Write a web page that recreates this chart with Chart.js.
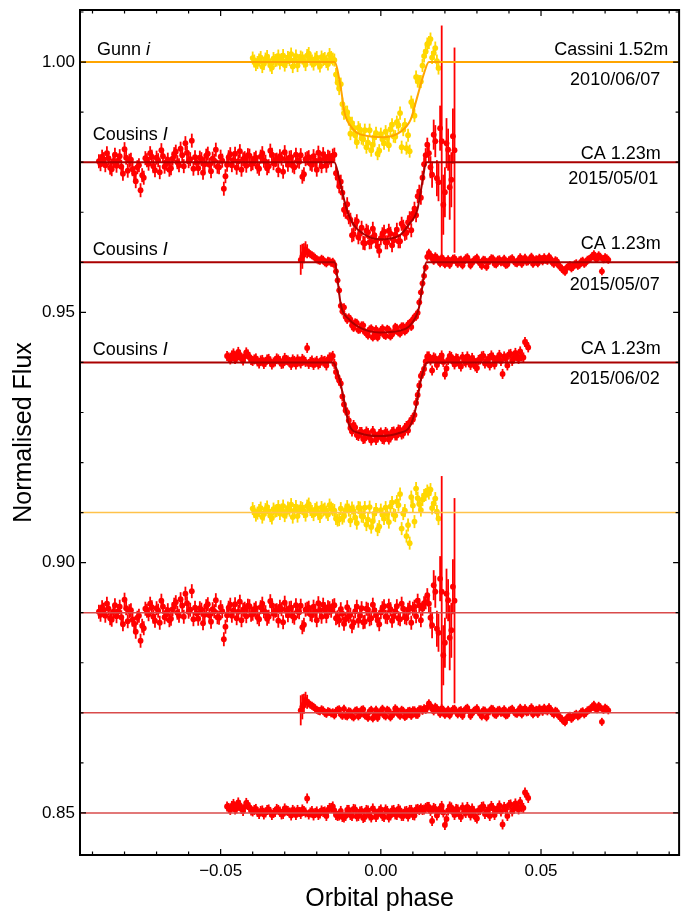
<!DOCTYPE html>
<html>
<head>
<meta charset="utf-8">
<title>Transit light curves</title>
<script src="https://cdn.jsdelivr.net/npm/chart.js@4.4.1/dist/chart.umd.min.js"></script>
<style>
	body { margin: 0; background: #fff; }
	#wrap { width: 682px; height: 914px; }
</style>
</head>
<body>
<div id="wrap"><canvas id="lc"></canvas></div>
<script>
// axis ticks
var xTicks = [-0.05, 0, 0.05];
var yTicks = [0.85, 0.90, 0.95, 1.00];

// photometry cadence in phase; the *Mid arrays sit half a step after each point
var step = 0.001;

// all fluxes below are (flux - 1) in parts per thousand

// Cassini 1.52m, Gunn i, 2010/06/07 : phases -0.040 .. 0.018
var gunnStart = -0.040;
var gunnBefore = [0.8,-0.5,0.4,-0.9,0.6,0.2,-1.1,0.3,1.2,0.5,-0.6,0.9,1.6,0.4,-0.7,1.0,0.2,1.3,0.6,-0.4,0.9,-0.8,0.5,0.1,1.5,0.6];
var gunnBeforeMid = [0.2,-0.1,0.9,-0.3,1.1,-0.6,0.7,0.4,-0.2,1.3,0.1,0.5,-0.9,1.2,0.3,0.8,-0.5,1.7,0.2,0.6,-0.2,1.0,0.7,-0.4,0.9];
var gunnIn = [-2.5,-5.3,-8.4,-10.0,-11.4,-12.2,-14.6,-13.1,-15.2,-13.6,-16.1,-17.6,-15.0,-18.3,-14.4,-16.2,-15.1,-13.4,-14.8,-12.0,-10.2,-13.5,-17.2,-17.8,-8.6,-3.0,-3.9,-0.7,2.1];
var gunnInMid = [0.4,-4.1,-4.4,-10.2,-10.0,-14.3,-13.1,-16.0,-13.5,-15.4,-17.0,-13.6,-16.5,-14.2,-17.7,-15.4,-13.9,-16.6,-12.5,-14.9,-12.6,-17.0,-12.5,-14.6,-8.0,-10.7,-3.8,-3.9,1.2,3.6];
var gunnInResid = [-1.2,-1.4,-1.1,0.5,0.5,0.9,-1.0,1.0,-0.7,1.0,-1.4,-2.9,-0.2,-3.4,0.5,-1.2,-0.3,1.2,-0.4,2.2,3.7,-0.2,-4.7,-6.1,1.4,4.8,1.7,2.6,3.6];
var gunnInMidResid = [0.4,-1.5,0.8,-0.7,1.2,-1.6,0.3,-2.1,0.9,-0.8,-2.4,1.1,-1.7,0.6,-2.8,-0.4,1.0,-1.9,2.0,-0.6,1.5,-3.2,0.4,-2.5,3.1,-1.8,2.9,0.5,3.4,4.3];
var gunnAfter = [3.9,0.9,2.8,-1.2];
var gunnAfterMid = [4.6,1.8,0.2];
var gunnErr = 1.3;
var gunnModelPhase = [-0.1,-0.0145,-0.0124,-0.0114,-0.0093,-0.0062,0.001,0.0062,0.0093,0.0114,0.0135,0.015,0.1];
var gunnModel = [0,0,-5.5,-9.9,-12.9,-14.5,-15.0,-13.9,-11.5,-6.9,-2.2,0,0];

// CA 1.23m, Cousins I, 2015/05/01 : phases -0.088 .. 0.023
var may01Start = -0.088;
var may01Before = [0.2,1.1,-0.6,0.8,-1.4,1.5,0.3,-0.9,2.6,-1.7,0.5,-2.2,-1.0,-5.6,-3.1,0.4,1.8,-0.8,0.9,-2.0,
	1.2,-0.3,-1.5,0.7,2.1,-0.6,1.4,3.8,0.2,4.3,1.0,-1.2,0.6,-0.4,1.7,-1.8,0.3,-0.9,1.1,-5.3,
	-0.5,1.6,0.4,-1.1,2.2,0.6,-0.7,1.3,-0.2,0.9,-1.3,1.8,0.1,-0.8,1.5,0.4,-1.6,0.7,2.0,-0.5,
	1.0,-1.0,0.3,1.4,-2.4,0.8,-0.3,1.2,-1.5,0.5,1.6,-0.7,0.9,1.3];
var may01BeforeMid = [-0.4,0.6,1.8,-1.1,0.2,-0.7,1.2,-2.3,0.9,0.3,-1.4,-3.8,-0.6,-2.6,0.8,-0.3,1.1,-1.6,0.4,2.4,
	-0.9,0.5,-1.2,1.6,0.0,2.7,-0.8,1.9,0.6,-1.3,-0.1,0.9,-2.1,1.3,-0.5,0.7,2.5,-1.0,0.3,-2.8,
	1.0,-0.6,1.7,0.2,-1.5,0.8,1.4,-0.4,0.6,-0.9,1.1,0.3,-1.2,2.3,-0.2,0.5,1.2,-1.9,0.4,0.9,
	-0.7,1.5,0.1,-2.9,0.6,1.0,-0.5,0.3,1.9,-0.8,0.7,1.1,0.4];
var may01In = [-2.2,-4.8,-6.1,-9.9,-11.0,-14.6,-12.4,-15.0,-13.1,-16.2,-14.0,-15.9,-14.6,-16.8,-15.2,-13.9,-16.0,-14.3,-15.6,-13.5,-15.8,-12.9,-14.1,-11.2,-10.3,-10.6,-5.9,-3.1,1.4];
var may01InMid = [1.5,-3.1,-3.9,-9.5,-8.4,-11.5,-14.4,-11.8,-14.3,-16.1,-13.7,-16.0,-13.3,-15.7,-17.7,-14.4,-16.0,-13.7,-16.6,-14.5,-15.8,-12.3,-14.3,-12.0,-13.6,-9.3,-6.8,-7.1,-0.4,3.5];
var may01InResid = [-1.1,-1.5,-0.2,-1.3,-0.7,-2.7,0.3,-1.6,0.9,-1.8,0.6,-1.1,0.5,-1.5,0.1,1.3,-0.9,0.7,-0.7,1.3,-1.3,0.8,-1.1,1.0,0.8,-0.7,1.5,0.8,2.1];
var may01InMidResid = [1.5,-0.9,0.7,-2.2,1.1,-0.4,-2.0,1.2,-0.6,-1.9,0.8,-1.3,1.6,-0.5,-2.3,0.9,-0.8,1.4,-1.6,0.3,-1.1,1.8,-0.9,0.6,-2.0,1.2,2.4,-1.5,1.9,3.5];
var may01After = [1.8,-2.5,4.2,-4.0,4.2,-6.0,2.5,-3.5,2.4];
var may01AfterMid = [-1.0,5.5,-3.2,6.8,-8.5,3.8,-5.0,5.2];
var may01Err = 1.4;
var may01AfterErr = [1.8,2.6,3.2,3.8,23.1,5.0,4.2,5.5,20.5];
var may01AfterMidErr = [2.2,3.0,3.6,4.5,6.0,5.0,6.5,5.5];
var may01ModelPhase = [-0.1,-0.0145,-0.0129,-0.0109,-0.0088,-0.0057,-0.0005,0.0057,0.0088,0.0114,0.0129,0.0142,0.1];
var may01Model = [0,0,-3.5,-8.9,-12.2,-14.2,-15.4,-14.7,-12.4,-9.5,-4.2,0,0];

// CA 1.23m, Cousins I, 2015/05/07 : phases -0.025 .. 0.071
var may07Start = -0.025;
var may07Before = [0.5,1.8,2.2,1.6,1.2,0.6,0.3,0.5,-0.2,0.2,0.1];
var may07BeforeMid = [1.2,2.6,1.9,1.4,0.9,0.4,0.7,0.0,0.3,-0.1];
var may07In = [-1.8,-5.6,-9.8,-10.9,-11.0,-12.6,-12.0,-13.5,-12.6,-13.9,-14.6,-13.2,-14.4,-15.0,-13.6,-14.5,-13.3,-14.8,-13.9,-13.1,-14.2,-12.8,-13.5,-12.1,-11.4,-10.9,-8.0,-4.2,-1.0];
var may07InMid = [-0.5,-3.6,-8.7,-9.0,-11.5,-11.4,-13.1,-12.1,-13.4,-12.6,-14.1,-13.4,-15.0,-13.4,-14.2,-13.2,-14.7,-13.5,-14.4,-12.9,-14.0,-12.8,-13.8,-12.4,-12.9,-10.9,-10.1,-6.0,-2.7,1.1];
var may07InResid = [0.3,0.7,-0.6,-0.6,0.3,-0.7,0.4,-0.7,0.6,-0.5,-1.0,0.6,-0.5,-1.0,0.4,-0.5,0.6,-0.9,-0.1,0.6,-0.6,0.4,-0.6,0.4,0.5,-0.4,0.7,0.4,0.6];
var may07InMidResid = [-0.5,0.6,-0.3,0.8,-0.7,0.2,-0.9,0.5,-0.4,0.7,-0.6,0.3,-1.1,0.6,-0.2,0.8,-0.7,0.4,-0.5,0.9,-0.3,0.6,-0.8,0.3,-0.6,0.5,-0.4,0.7,0.9,1.1];
var may07After = [1.9,0.8,1.2,0.3,0.9,-0.4,0.6,0.1,0.8,-0.3,0.5,0.2,1.0,-0.6,0.4,0.9,-0.2,0.5,-0.9,0.3,
	0.7,-0.4,0.6,0.1,-0.5,0.4,0.8,-0.1,0.5,-0.3,0.9,0.2,1.1,0.4,-0.2,0.6,1.0,0.3,0.7,-0.3,
	0.2,-0.9,-1.6,-1.1,-0.6,-0.9,-0.2,-0.5,0.3,0.0,0.6,1.2,0.8,1.4,-1.8,1.0,0.5];
var may07AfterMid = [1.4,0.3,0.9,-0.2,0.6,0.1,-0.5,0.7,0.2,0.4,-0.6,0.8,0.3,-0.1,0.6,0.2,-0.7,0.4,0.1,0.8,
	-0.3,0.5,0.0,0.7,-0.4,0.6,0.3,-0.2,1.0,0.5,0.1,0.7,-0.3,0.6,0.9,0.2,0.5,1.1,0.0,0.4,
	-0.6,-1.3,-1.9,-0.8,-1.2,-0.4,-0.7,0.1,-0.3,0.5,0.9,1.6,0.7,1.1,0.6,0.8];
var may07Err = 0.8;
var may07BeforeErr = [3.0,2.0,1.4];
var may07BeforeMidErr = [2.5,1.6];
var may07ModelPhase = [-0.1,-0.0145,-0.0124,-0.0099,-0.0057,-0.0005,0.0057,0.0098,0.0119,0.0129,0.0142,0.1];
var may07Model = [0,0,-8.8,-11.4,-13.3,-14.0,-13.7,-12.1,-9.1,-5.1,0,0];

// CA 1.23m, Cousins I, 2015/06/02 : phases -0.048 .. 0.046
var jun02Start = -0.048;
var jun02Before = [1.3,0.6,1.8,0.9,1.5,0.4,2.0,1.1,0.3,0.8,-0.2,0.5,0.1,0.7,-0.4,0.2,0.6,-0.3,0.9,0.4,
	-0.5,0.3,0.6,-0.2,0.4,2.9,0.1,-0.5,0.3,-0.1,0.2,-0.6,1.0,1.3];
var jun02BeforeMid = [1.0,1.4,0.7,2.1,0.8,1.2,1.6,0.5,0.6,0.2,0.4,-0.3,0.6,0.2,0.0,0.8,0.3,-0.2,0.5,0.1,
	0.6,-0.4,0.2,0.7,0.1,-0.3,0.4,0.0,-0.4,0.5,0.3,0.6,1.0];
var jun02In = [-1.9,-3.6,-6.8,-9.6,-11.6,-13.8,-13.0,-14.7,-13.9,-15.2,-14.1,-15.6,-14.3,-15.0,-14.0,-15.4,-14.2,-15.0,-13.8,-14.6,-13.5,-14.2,-12.7,-12.0,-11.4,-8.1,-4.6,-2.2,0.2];
var jun02InMid = [-0.3,-2.9,-4.2,-8.4,-10.0,-13.1,-12.5,-14.5,-13.9,-15.3,-13.8,-15.0,-13.7,-15.5,-14.3,-15.3,-13.9,-15.4,-13.9,-14.6,-13.4,-14.4,-13.1,-13.6,-11.5,-10.5,-6.5,-2.7,-1.3,1.2];
var jun02InResid = [-0.4,-0.5,-0.8,-0.6,0.6,-0.6,0.7,-0.6,0.4,-0.8,0.5,-0.9,0.4,-0.3,0.7,-0.8,0.4,-0.5,0.6,-0.4,0.5,-0.6,0.4,0.6,-0.4,0.7,0.6,0.6,1.0];
var jun02InMidResid = [0.5,-0.6,0.4,-0.9,0.6,-0.4,0.8,-0.7,0.3,-1.0,0.6,-0.5,0.9,-0.8,0.4,-0.6,0.7,-0.9,0.5,-0.3,0.8,-0.6,0.3,-0.7,0.6,-0.5,0.8,0.9,0.7,1.2];
var jun02After = [1.2,-1.6,0.8,0.2,1.4,-2.4,0.5,1.1,-0.4,0.7,-0.8,0.3,1.2,-0.5,0.4,-1.1,0.6,1.3,0.2,-0.6,
	1.0,0.4,1.5,-2.3,0.8,1.6,0.3,1.9,0.7,1.2,4.1,3.0];
var jun02AfterMid = [0.4,1.0,-0.5,0.9,0.1,-1.2,1.3,0.2,0.8,-0.3,1.1,0.0,0.6,0.9,-0.8,0.5,1.2,-0.2,0.7,1.4,
	-0.4,0.9,0.3,1.2,-0.6,1.7,0.8,1.3,2.2,1.0,3.6];
var jun02Err = 1.0;
var jun02ModelPhase = [-0.1,-0.0150,-0.0130,-0.0114,-0.0099,-0.0068,-0.0005,0.0057,0.0093,0.0109,0.0124,0.0145,0.1];
var jun02Model = [0,0,-3.1,-7.8,-12.5,-14.1,-14.7,-14.1,-12.5,-9.1,-3.8,0,0];

var fam = '"Liberation Sans", Arial, Helvetica, sans-serif';
var yellow = '#FFD700', orange = '#FFA500', red = '#FF0000', darkRed = '#AA0000';

// main points on the cadence, mid points half a step later
function points(start, vals, mids, base) {
	var out = [];
	vals.forEach(function(v, i){ out.push({x: start + i * step, y: base + v / 1000}); });
	mids.forEach(function(v, i){ out.push({x: start + (i + 0.5) * step, y: base + v / 1000}); });
	return out;
}

function knots(ph, vals, base) {
	return ph.map(function(p, i){ return {x: p, y: base + vals[i] / 1000}; });
}

function errs(n, e, head, tail) {
	var out = [];
	for (var i = 0; i < n; i++) out.push(e / 1000);
	(head || []).forEach(function(v, i){ out[i] = v / 1000; });
	(tail || []).forEach(function(v, i){ out[n - tail.length + i] = v / 1000; });
	return out;
}

function pointSet(data, color, errors, order) {
	return {
		type: 'scatter', data: data, errors: errors,
		backgroundColor: color, borderWidth: 0,
		pointRadius: 2.9, pointHoverRadius: 2.9, order: order
	};
}

function lineSet(data, color, width) {
	return {
		type: 'scatter', data: data, showLine: true,
		borderColor: color, borderWidth: width, pointRadius: 0,
		cubicInterpolationMode: 'monotone', order: 0
	};
}

var gunnFlux = gunnBefore.concat(gunnIn, gunnAfter);
var gunnFluxMid = gunnBeforeMid.concat(gunnInMid, gunnAfterMid);
var gunnRes = gunnBefore.concat(gunnInResid, gunnAfter);
var gunnResMid = gunnBeforeMid.concat(gunnInMidResid, gunnAfterMid);
var may01Flux = may01Before.concat(may01In, may01After);
var may01FluxMid = may01BeforeMid.concat(may01InMid, may01AfterMid);
var may01Res = may01Before.concat(may01InResid, may01After);
var may01ResMid = may01BeforeMid.concat(may01InMidResid, may01AfterMid);
var may07Flux = may07Before.concat(may07In, may07After);
var may07FluxMid = may07BeforeMid.concat(may07InMid, may07AfterMid);
var may07Res = may07Before.concat(may07InResid, may07After);
var may07ResMid = may07BeforeMid.concat(may07InMidResid, may07AfterMid);
var jun02Flux = jun02Before.concat(jun02In, jun02After);
var jun02FluxMid = jun02BeforeMid.concat(jun02InMid, jun02AfterMid);
var jun02Res = jun02Before.concat(jun02InResid, jun02After);
var jun02ResMid = jun02BeforeMid.concat(jun02InMidResid, jun02AfterMid);

var gunnE = errs(gunnFlux.length, gunnErr).concat(errs(gunnFluxMid.length, gunnErr));
var may01E = errs(may01Flux.length, may01Err, null, may01AfterErr).concat(errs(may01FluxMid.length, may01Err, null, may01AfterMidErr));
var may07E = errs(may07Flux.length, may07Err, may07BeforeErr).concat(errs(may07FluxMid.length, may07Err, may07BeforeMidErr));
var jun02E = errs(jun02Flux.length, jun02Err).concat(errs(jun02FluxMid.length, jun02Err));

var datasets = [
	lineSet(knots(gunnModelPhase, gunnModel, 1.00), orange, 2),
	lineSet(knots(may01ModelPhase, may01Model, 0.98), darkRed, 2),
	lineSet(knots(may07ModelPhase, may07Model, 0.96), darkRed, 2),
	lineSet(knots(jun02ModelPhase, jun02Model, 0.94), darkRed, 2),
	lineSet([{x: -0.1, y: 0.91}, {x: 0.1, y: 0.91}], '#FFC24A', 1.5),
	lineSet([{x: -0.1, y: 0.89}, {x: 0.1, y: 0.89}], '#D94B4B', 1.5),
	lineSet([{x: -0.1, y: 0.87}, {x: 0.1, y: 0.87}], '#D94B4B', 1.5),
	lineSet([{x: -0.1, y: 0.85}, {x: 0.1, y: 0.85}], '#D94B4B', 1.5),
	pointSet(points(may01Start, may01Flux, may01FluxMid, 0.98), red, may01E, 1),
	pointSet(points(may07Start, may07Flux, may07FluxMid, 0.96), red, may07E, 1),
	pointSet(points(jun02Start, jun02Flux, jun02FluxMid, 0.94), red, jun02E, 1),
	pointSet(points(may01Start, may01Res, may01ResMid, 0.89), red, may01E, 1),
	pointSet(points(may07Start, may07Res, may07ResMid, 0.87), red, may07E, 1),
	pointSet(points(jun02Start, jun02Res, jun02ResMid, 0.85), red, jun02E, 1),
	pointSet(points(gunnStart, gunnFlux, gunnFluxMid, 1.00), yellow, gunnE, 2),
	pointSet(points(gunnStart, gunnRes, gunnResMid, 0.91), yellow, gunnE, 2)
];

var leftLabels = [
	{name: 'Gunn ', band: 'i', x: -0.0886, y: 1.0014},
	{name: 'Cousins ', band: 'I', x: -0.0899, y: 0.9844},
	{name: 'Cousins ', band: 'I', x: -0.0899, y: 0.9615},
	{name: 'Cousins ', band: 'I', x: -0.0899, y: 0.9415}
];
var rightLabels = [
	{text: 'Cassini 1.52m', x: 0.0897, y: 1.0014},
	{text: '2010/06/07', x: 0.0872, y: 0.9954},
	{text: 'CA 1.23m', x: 0.0874, y: 0.9806},
	{text: '2015/05/01', x: 0.0866, y: 0.9756},
	{text: 'CA 1.23m', x: 0.0874, y: 0.9626},
	{text: '2015/05/07', x: 0.0871, y: 0.9545},
	{text: 'CA 1.23m', x: 0.0874, y: 0.9417},
	{text: '2015/06/02', x: 0.0871, y: 0.9357}
];

var errorBars = {
	id: 'errorBars',
	beforeDatasetDraw: function(chart, args) {
		var ds = chart.data.datasets[args.index];
		if (!ds.errors) return;
		var xs = chart.scales.x, ys = chart.scales.y, ctx = chart.ctx, a = chart.chartArea;
		ctx.save();
		ctx.beginPath();
		ctx.rect(a.left, a.top, a.right - a.left, a.bottom - a.top);
		ctx.clip();
		ctx.strokeStyle = ds.backgroundColor;
		ctx.lineWidth = 1.8;
		ds.data.forEach(function(p, i){
			var px = xs.getPixelForValue(p.x);
			ctx.beginPath();
			ctx.moveTo(px, ys.getPixelForValue(p.y + ds.errors[i]));
			ctx.lineTo(px, ys.getPixelForValue(p.y - ds.errors[i]));
			ctx.stroke();
		});
		ctx.restore();
	}
};

var labels = {
	id: 'labels',
	afterDatasetsDraw: function(chart) {
		var xs = chart.scales.x, ys = chart.scales.y, ctx = chart.ctx;
		ctx.save();
		ctx.fillStyle = '#000';
		ctx.textBaseline = 'alphabetic';
		leftLabels.forEach(function(l){
			var px = xs.getPixelForValue(l.x), py = ys.getPixelForValue(l.y);
			ctx.textAlign = 'left';
			ctx.font = '18px ' + fam;
			ctx.fillText(l.name, px, py);
			var w = ctx.measureText(l.name).width;
			ctx.font = 'italic 18px ' + fam;
			ctx.fillText(l.band, px + w, py);
		});
		ctx.font = '18px ' + fam;
		ctx.textAlign = 'right';
		rightLabels.forEach(function(l){
			ctx.fillText(l.text, xs.getPixelForValue(l.x), ys.getPixelForValue(l.y));
		});
		ctx.restore();
	}
};

var frame = {
	id: 'frame',
	afterDraw: function(chart) {
		var a = chart.chartArea, ctx = chart.ctx, xs = chart.scales.x, ys = chart.scales.y;
		ctx.save();
		ctx.strokeStyle = '#000';
		ctx.lineWidth = 1.2;
		ctx.beginPath();
		for (var k = -9; k <= 9; k++) {
			var px = xs.getPixelForValue(k / 100);
			var len = (k % 5 === 0) ? 6 : 3.5;
			ctx.moveTo(px, a.bottom); ctx.lineTo(px, a.bottom - len);
			ctx.moveTo(px, a.top); ctx.lineTo(px, a.top + len);
		}
		for (var j = 85; j <= 101; j++) {
			var py = ys.getPixelForValue(j / 100);
			var ln = (j % 5 === 0) ? 6 : 3.5;
			ctx.moveTo(a.left, py); ctx.lineTo(a.left + ln, py);
			ctx.moveTo(a.right, py); ctx.lineTo(a.right - ln, py);
		}
		ctx.stroke();
		ctx.lineWidth = 2;
		ctx.strokeRect(a.left, a.top, a.right - a.left, a.bottom - a.top);
		ctx.restore();
	}
};

function fmt(v) {
	if (Math.abs(v) < 1e-9) return '0.00';
	return (v < 0 ? '\u2212' : '') + Math.abs(v).toFixed(2);
}

new Chart(document.getElementById('lc'), {
	type: 'scatter',
	data: {datasets: datasets},
	plugins: [errorBars, labels, frame],
	options: {
		responsive: true,
		maintainAspectRatio: false,
		animation: false,
		layout: {padding: {top: 10, right: 1, left: 0, bottom: 0}},
		plugins: {legend: {display: false}, tooltip: {enabled: false}},
		scales: {
			x: {
				type: 'linear', min: -0.0939, max: 0.0931,
				afterBuildTicks: function(s){ s.ticks = xTicks.map(function(v){ return {value: v}; }); },
				afterFit: function(s){ s.height = 59; s.paddingLeft = 0; s.paddingRight = 0; },
				grid: {display: false, drawTicks: false},
				border: {display: false},
				ticks: {font: {family: fam, size: 17}, color: '#000', padding: 6, maxRotation: 0, autoSkip: false, callback: fmt},
				title: {display: true, text: 'Orbital phase', color: '#000', font: {family: fam, size: 25}, padding: {top: 0, bottom: 0}}
			},
			y: {
				type: 'linear', min: 0.8416, max: 1.0104,
				afterBuildTicks: function(s){ s.ticks = yTicks.map(function(v){ return {value: v}; }); },
				afterFit: function(s){ s.width = 80; s.paddingTop = 0; s.paddingBottom = 0; },
				grid: {display: false, drawTicks: false},
				border: {display: false},
				ticks: {font: {family: fam, size: 17}, color: '#000', padding: 5, autoSkip: false, callback: fmt},
				title: {display: true, text: 'Normalised Flux', color: '#000', font: {family: fam, size: 25}, padding: {top: 9, bottom: 0}}
			}
		}
	}
});
</script>
</body>
</html>
